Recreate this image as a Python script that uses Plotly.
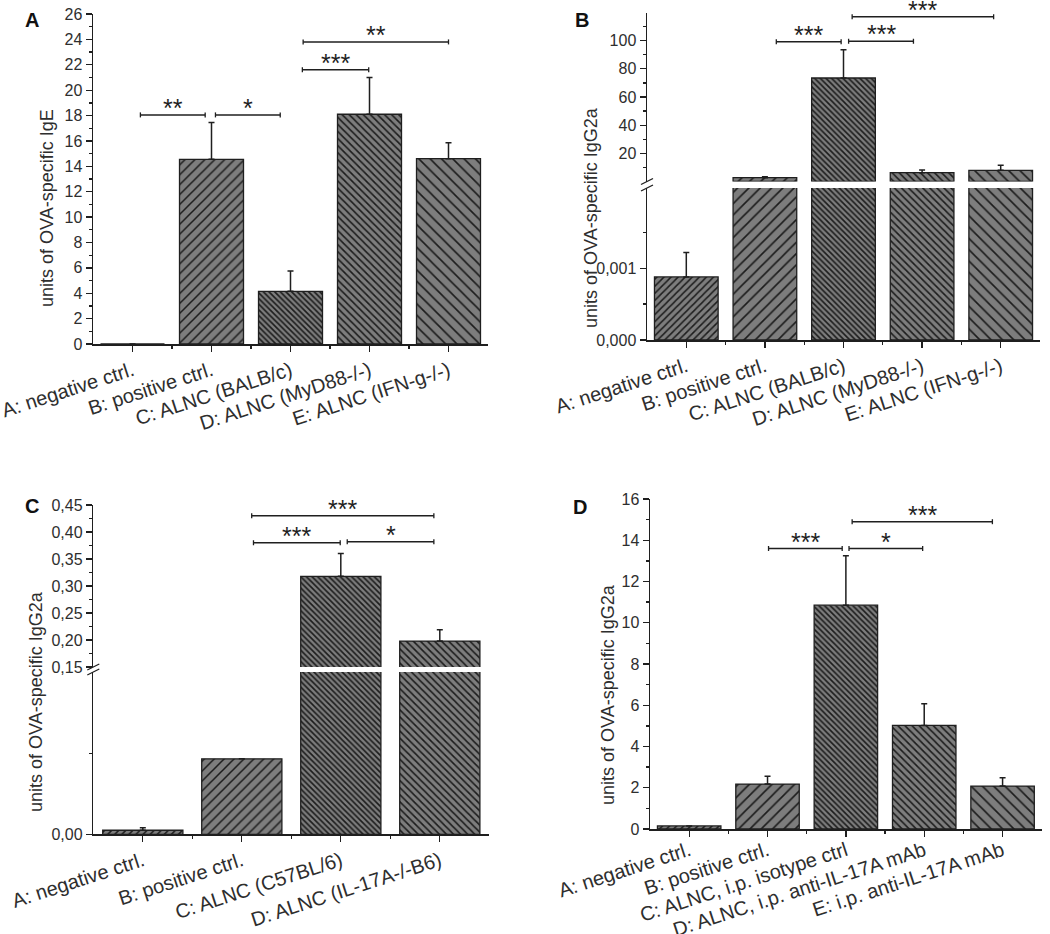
import plotly.graph_objects as go

OFF = 0
W, H = 1050 - OFF, 934 - OFF

# ---------------- data ----------------
cats_A = ["A: negative ctrl.", "B: positive ctrl.", "C: ALNC (BALB/c)", "D: ALNC (MyD88-/-)", "E: ALNC (IFN-g-/-)"]
vals_A = [0.0, 14.55, 4.15, 18.1, 14.6]
err_A = [0.0, 2.9, 1.6, 2.9, 1.26]
brk_A = [(0.1, 0.92, 18.05, "**"), (1.05, 1.87, 18.05, "*"), (2.15, 2.99, 21.6, "***"), (2.16, 4.0, 23.8, "**")]

cats_B = ["A: negative ctrl.", "B: positive ctrl.", "C: ALNC (BALB/c)", "D: ALNC (MyD88-/-)", "E: ALNC (IFN-g-/-)"]
vals_B = [0.00088, 2.7, 73.5, 6.25, 7.95]
err_B = [0.00034, 0.7, 20.1, 1.9, 3.55]
brk_B = [(1.145, 1.97, 99.3, "***"), (2.065, 2.89, 99.6, "***"), (2.11, 3.91, 117.0, "***")]

cats_C = ["A: negative ctrl.", "B: positive ctrl.", "C: ALNC (C57BL/6)", "D: ALNC (IL-17A-/-B6)"]
vals_C = [0.00005, 0.00093, 0.318, 0.198]
err_C = [0.00003, 0.0, 0.042, 0.021]
brk_C = [(1.118, 1.994, 0.380, "***"), (2.065, 2.94, 0.382, "*"), (1.10, 2.94, 0.430, "***")]

cats_D = ["A: negative ctrl.", "B: positive ctrl.", "C: ALNC, i.p. isotype ctrl", "D: ALNC, i.p. anti-IL-17A mAb", "E: i.p. anti-IL-17A mAb"]
vals_D = [0.15, 2.18, 10.85, 5.02, 2.08]
err_D = [0.0, 0.38, 2.4, 1.05, 0.4]
brk_D = [(1.013, 1.953, 13.6, "***"), (2.04, 2.98, 13.6, "*"), (2.08, 3.87, 14.9, "***")]

# hatch styles per bar
hatch_A = (["/", "/", "\\", "\\", "\\"], [5, 7, 4, 5, 8], [0.3, 0.22, 0.4, 0.32, 0.2])
hatch_B = (["/", "/", "\\", "\\", "\\"], [5, 8, 4, 5, 8], [0.3, 0.2, 0.4, 0.32, 0.2])
hatch_C = (["/", "/", "\\", "\\"], [5, 7, 4, 5], [0.3, 0.22, 0.4, 0.32])
hatch_D = (["/", "/", "\\", "\\", "\\"], [5, 8, 4, 5, 8], [0.3, 0.2, 0.4, 0.32, 0.2])

FONT = "Liberation Sans, Arial, sans-serif"
LINE = "#1f1f1f"
TEXT = "#2e2e2e"
GRAY = "#7d7d7d"
FG = "#1c1c1c"


def xd(p0, p1):
    return [(p0 - OFF) / W, (p1 - OFF) / W]


def yd(top, bottom):
    return [1 - (bottom - OFF) / H, 1 - (top - OFF) / H]


def px(p):
    return (p - OFF) / W


def py(p):
    return 1 - (p - OFF) / H


fig = go.Figure()


def add_bars(xa, ya, vals, errs, hatch, lo=-1e9, hi=1e9):
    v = [x if x > lo else None for x in vals]
    e = [er if (er and lo < x < hi) else None for x, er in zip(vals, errs)]
    fig.add_trace(go.Bar(
        x=list(range(len(vals))), y=v, xaxis=xa, yaxis=ya, width=0.81,
        marker=dict(color=GRAY, line=dict(color=LINE, width=1.3),
                    pattern=dict(shape=hatch[0], size=hatch[1], solidity=hatch[2],
                                 fgcolor=FG, bgcolor=GRAY, fillmode="replace")),
        error_y=dict(type="data", array=e, arrayminus=[0] * len(e), symmetric=False,
                     color=LINE, thickness=1.5, width=3),
        showlegend=False, hoverinfo="skip"))


def add_brackets(xa, ya, brks):
    for x0, x1, y, lab in brks:
        fig.add_shape(type="line", xref=xa, yref=ya, x0=x0, x1=x1, y0=y, y1=y,
                      line=dict(color=LINE, width=1.5))
        for xe in (x0, x1):
            fig.add_shape(type="line", xref=xa, yref=ya, x0=xe, x1=xe,
                          ysizemode="pixel", yanchor=y, y0=-2.5, y1=2.5,
                          line=dict(color=LINE, width=1.3))
        fig.add_annotation(x=(x0 + x1) / 2, y=y, xref=xa, yref=ya, text=lab,
                           showarrow=False, yanchor="bottom", yshift=-9,
                           font=dict(size=25, color=LINE, family=FONT))


def xaxis_cfg(dom, cats, anchor, standoff=0):
    n = len(cats)
    return dict(domain=dom, range=[-0.5, n - 0.5], anchor=anchor,
                tickmode="array", tickvals=list(range(n)), ticktext=cats, tickangle=-18,
                ticks="outside", ticklen=6, tickwidth=1.3, tickcolor=LINE,
                showline=True, linecolor=LINE, linewidth=1.5, showgrid=False, zeroline=False,
                tickfont=dict(size=20, color=TEXT, family=FONT), ticklabeloverflow="allow",
                ticklabelstandoff=standoff,
                minor=dict(tickvals=[i + 0.5 for i in range(n - 1)], ticks="outside",
                           ticklen=3, tickcolor=LINE, tickwidth=1.3),
                automargin=False, fixedrange=True)


def yaxis_cfg(dom, rng, anchor, tv, tt, minor):
    return dict(domain=dom, range=rng, anchor=anchor,
                tickmode="array", tickvals=tv, ticktext=tt,
                ticks="outside", ticklen=6, tickwidth=1.3, tickcolor=LINE,
                showline=True, linecolor=LINE, linewidth=1.5, showgrid=False, zeroline=False,
                tickfont=dict(size=16, color=TEXT, family=FONT), ticklabeloverflow="allow",
                minor=dict(tickvals=minor, ticks="outside", ticklen=3, tickcolor=LINE, tickwidth=1.3),
                automargin=False, fixedrange=True)


# ---------------- panel A ----------------
add_bars("x", "y", vals_A, err_A, hatch_A)
add_brackets("x", "y", brk_A)

# ---------------- panel B (broken axis) ----------------
B_up = [0, 120]
B_lo = [0, 0.00212]
add_bars("x2", "y2", vals_B, err_B, hatch_B, lo=B_lo[1])
add_bars("x2", "y3", vals_B, err_B, hatch_B, hi=B_lo[1])
add_brackets("x2", "y2", brk_B)

# ---------------- panel C (broken axis) ----------------
C_up = [0.15, 0.45]
C_lo = [0, 0.002]
add_bars("x3", "y4", vals_C, err_C, hatch_C, lo=C_lo[1])
add_bars("x3", "y5", vals_C, err_C, hatch_C, hi=C_lo[1])
add_brackets("x3", "y4", brk_C)

# ---------------- panel D ----------------
add_bars("x4", "y6", vals_D, err_D, hatch_D)
add_brackets("x4", "y6", brk_D)

ticksA = list(range(0, 27, 2))
ticksD = list(range(0, 17, 2))
C_ticks = [0.15, 0.20, 0.25, 0.30, 0.35, 0.40, 0.45]

fig.update_layout(
    width=W, height=H, margin=dict(l=0, r=0, t=0, b=0),
    paper_bgcolor="white", plot_bgcolor="white", showlegend=False,
    font=dict(family=FONT, color=TEXT),
    xaxis=xaxis_cfg(xd(93, 488), cats_A, "y"),
    yaxis=yaxis_cfg(yd(14, 344), [0, 26], "x", ticksA, [str(t) for t in ticksA],
                    list(range(1, 26, 2))),
    xaxis2=xaxis_cfg(xd(647, 1040), cats_B, "y3"),
    yaxis2=yaxis_cfg(yd(12.5, 181.5), B_up, "x2", [20, 40, 60, 80, 100],
                     ["20", "40", "60", "80", "100"], [10, 30, 50, 70, 90, 110]),
    yaxis3=yaxis_cfg(yd(188, 340), B_lo, "x2", [0, 0.001], ["0,000", "0,001"],
                     [0.0005, 0.0015]),
    xaxis3=xaxis_cfg(xd(93.3, 489.3), cats_C, "y5"),
    yaxis4=yaxis_cfg(yd(505, 667), C_up, "x3", C_ticks,
                     [("%.2f" % t).replace(".", ",") for t in C_ticks],
                     [0.175, 0.225, 0.275, 0.325, 0.375, 0.425]),
    yaxis5=yaxis_cfg(yd(672, 834.3), C_lo, "x3", [0], ["0,00"], [0.001]),
    xaxis4=xaxis_cfg(xd(650, 1041.75), cats_D, "y6", standoff=-5),
    yaxis6=yaxis_cfg(yd(499, 829), [0, 16], "x4", ticksD, [str(t) for t in ticksD],
                     list(range(1, 16, 2))),
)

# axis-break marks
for xa, ya_up, ya_lo in (("x2", "y2", "y3"), ("x3", "y4", "y5")):
    for ya, yanc in ((ya_up, 0), (ya_lo, 1)):
        fig.add_shape(type="line", xref=xa + " domain", yref=ya + " domain",
                      xsizemode="pixel", xanchor=0, x0=-6, x1=6,
                      ysizemode="pixel", yanchor=yanc, y0=-3, y1=3,
                      line=dict(color=LINE, width=1.3))

# panel letters and y-axis titles
for lab, lx, ly in (("A", 32, 20), ("B", 582, 20), ("C", 32, 506), ("D", 580, 507)):
    fig.add_annotation(x=px(lx), y=py(ly), xref="paper", yref="paper", text=lab,
                       showarrow=False, xanchor="center", yanchor="middle",
                       font=dict(size=20, color="#111111", family=FONT, weight="bold"))

for lab, lx, ly in (("units of OVA-specific IgE", 47, 208),
                    ("units of OVA-specific IgG2a", 591, 218),
                    ("units of OVA-specific IgG2a", 36, 702),
                    ("units of OVA-specific IgG2a", 608, 695)):
    fig.add_annotation(x=px(lx), y=py(ly), xref="paper", yref="paper", text=lab,
                       showarrow=False, textangle=-90, xanchor="center", yanchor="middle",
                       font=dict(size=18, color=TEXT, family=FONT))

# remove the browser's default 8px page margin so the figure fills the window
fig.write_html("out.html", config={"displayModeBar": False, "staticPlot": True},
               post_script="document.body.style.margin = '0px';")
